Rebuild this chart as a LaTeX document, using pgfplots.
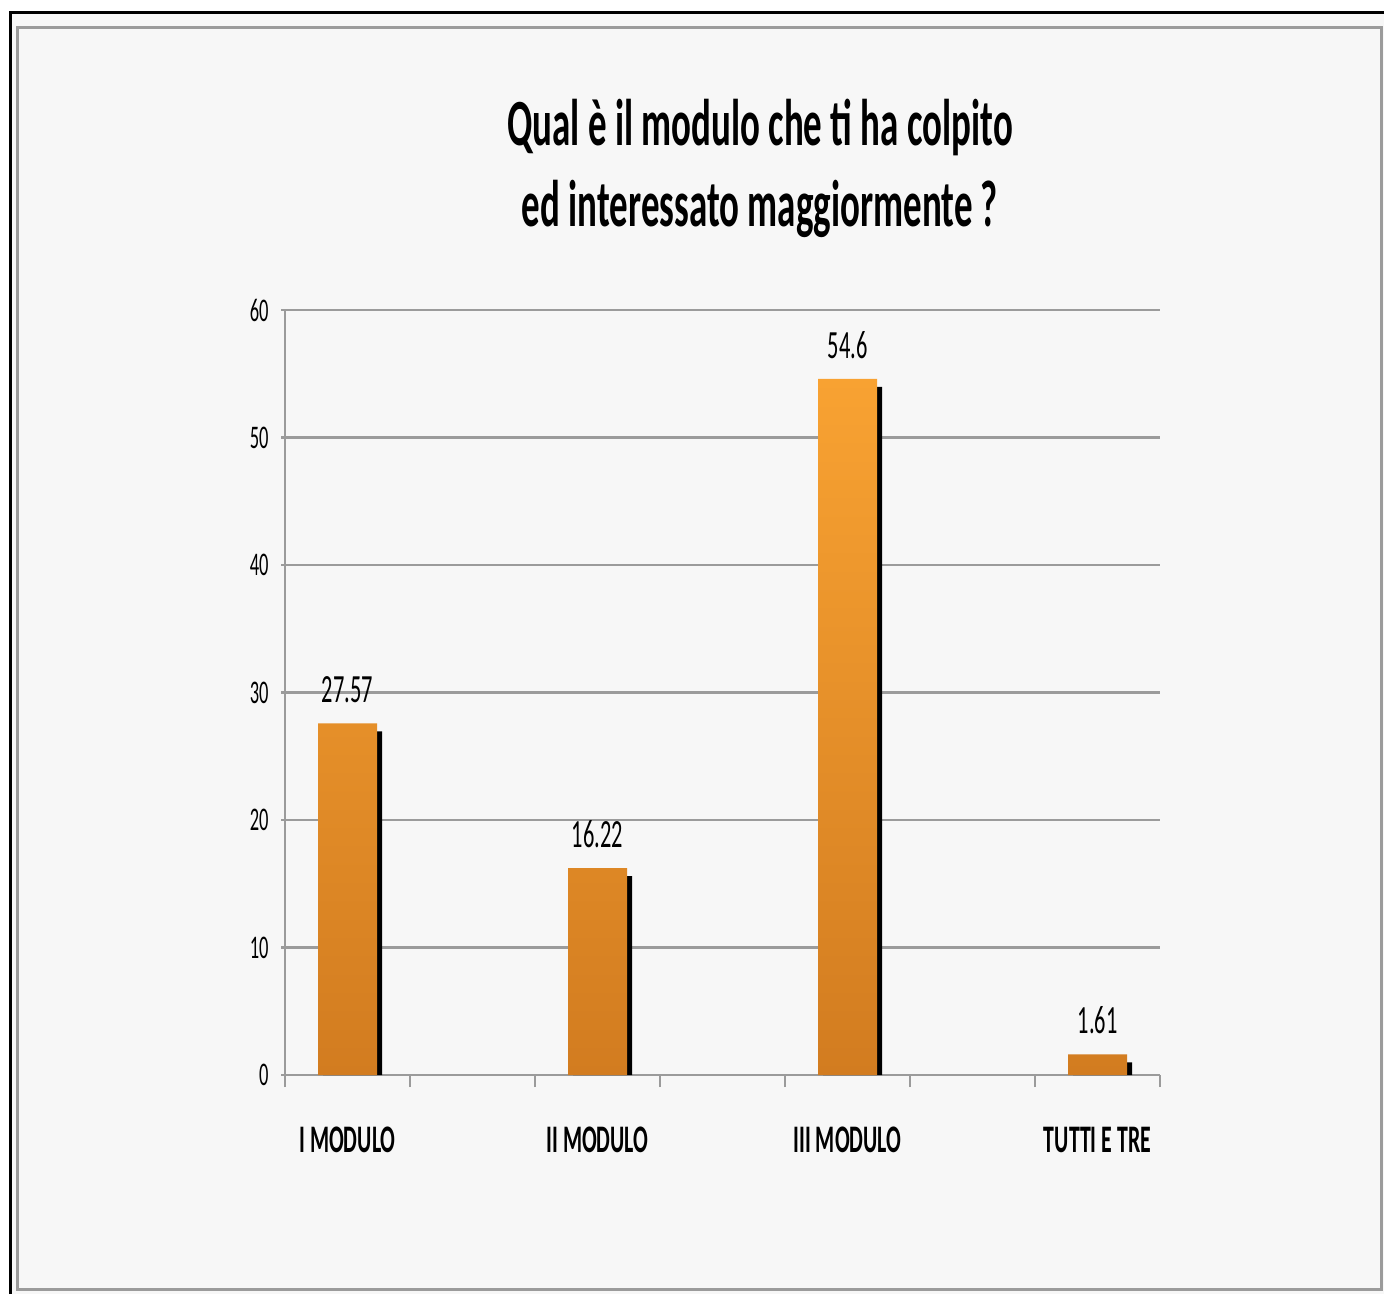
\documentclass[border=0pt]{standalone}
\usepackage{fontspec}
\setmainfont{Carlito}[FakeStretch=0.56]
\usepackage{pgfplots}
\pgfplotsset{compat=1.18}
\definecolor{gridgray}{RGB}{155,155,155}
\definecolor{bg}{RGB}{247,247,247}
\definecolor{otop}{RGB}{248,162,50}
\definecolor{obot}{RGB}{210,124,32}
\begin{document}
\begin{tikzpicture}[x=0.5pt,y=0.5pt]
\useasboundingbox (0,0) rectangle (1384,-1294);
\fill[white] (0,0) rectangle (1384,-1294);
\fill[bg] (10,-13) rectangle (1384,-1294);
\draw[black, line width=1.5pt] (10,-1294) -- (10,-13) -- (1384,-13);
\draw[gridgray, line width=1.5pt] (17,-28) rectangle (1381,-1289);
\node[anchor=base, font=\bfseries\fontsize{33}{33}\selectfont, inner sep=0pt] at (760,-146) {Qual è il modulo che ti ha colpito};
\node[anchor=base, font=\bfseries\fontsize{33}{33}\selectfont, inner sep=0pt] at (760,-227) {ed interessato maggiormente ?};
\begin{axis}[
  at={(142.5pt,-537.5pt)}, anchor=south west,
  scale only axis, width=437.5pt, height=382.5pt,
  xmin=-0.5, xmax=6.5, ymin=0, ymax=60,
  axis x line*=bottom, axis y line*=left,
  axis line style={gridgray, line width=1.2pt},
  ytick={0,10,...,60},
  ymajorgrids, grid style={gridgray, line width=1.2pt},
  xtick={0,2,4,6},
  xticklabels={I MODULO, II MODULO, III MODULO, TUTTI E TRE},
  minor xtick={-0.5,0.5,...,6.5},
  tick align=outside,
  major tick length=2pt, minor tick length=6pt,
  major x tick style={draw=none},
  minor x tick style={gridgray, line width=1.2pt},
  major y tick style={gridgray, line width=1.2pt},
  /pgf/number format/assume math mode=true,
  yticklabel style={font=\fontsize{16.5}{16.5}\selectfont, anchor=east, inner sep=0pt, xshift=-6pt},
  xticklabel style={font=\bfseries\fontsize{19.5}{19.5}\selectfont, anchor=north, inner sep=0pt, yshift=-24pt},
  clip=false,
]
\addplot[ybar, bar width=29.5pt, bar shift=2.6pt, fill=black, draw=none] coordinates {(0,26.95) (2,15.6) (4,53.97) (6,1.0)};
\addplot[ybar, bar width=29.5pt, bar shift=0pt, draw=none, top color=otop, bottom color=obot] coordinates {(0,27.57) (2,16.22) (4,54.6) (6,1.61)};
\addplot[ybar, bar width=29.5pt, bar shift=0pt, draw=none, fill=none, point meta=explicit symbolic, nodes near coords,
  every node near coord/.style={font=\fontsize{20}{20}\selectfont, anchor=south, inner sep=0pt, yshift=10pt, text=black}]
  coordinates {(0,27.57) [27.57] (2,16.22) [16.22] (4,54.6) [54.6] (6,1.61) [1.61]};
\end{axis}
\end{tikzpicture}
\end{document}
